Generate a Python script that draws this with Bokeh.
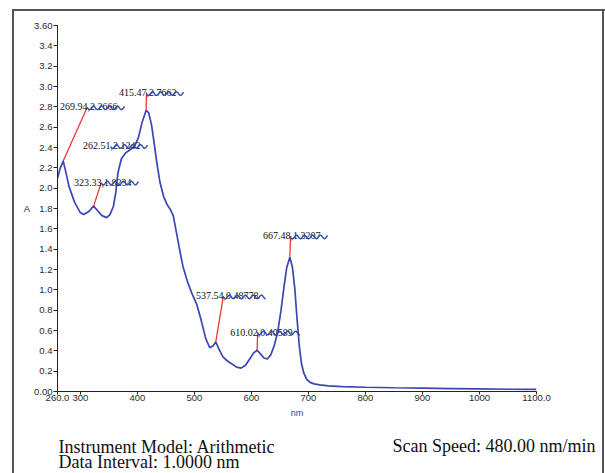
import numpy as np
from bokeh.plotting import figure
from bokeh.layouts import column
from bokeh.models import FixedTicker, Range1d
from bokeh.core.properties import value
from bokeh.embed import file_html
from bokeh.resources import INLINE

# ---- spectrum (wavelength nm, absorbance A) ----
wavelength = [260, 265, 269.94, 275, 280, 290, 300, 306, 315, 323.33, 330, 338, 346, 352,
              358, 362, 366, 372, 380, 388, 395, 402, 408, 415.47, 420, 425, 430, 435, 440,
              446, 452, 458, 463, 468, 474, 480, 488, 496, 504, 512, 520, 527, 533, 537.54,
              543, 550, 558, 566, 574, 582, 590, 597, 604, 610.02, 616, 622, 628, 634, 640,
              646, 652, 657, 662, 667.48, 672, 676, 680, 684, 688, 692, 697, 703, 710, 720,
              735, 760, 800, 850, 900, 950, 1000, 1050, 1100]
absorbance = [2.10, 2.20, 2.2666, 2.15, 2.02, 1.86, 1.76, 1.74, 1.77, 1.8234, 1.78, 1.73, 1.71, 1.74,
              1.82, 1.95, 2.15, 2.29, 2.35, 2.38, 2.41, 2.50, 2.64, 2.7662, 2.74, 2.62, 2.42, 2.22, 2.05,
              1.92, 1.84, 1.79, 1.73, 1.58, 1.40, 1.23, 1.08, 0.96, 0.86, 0.70, 0.52, 0.43, 0.45, 0.48778,
              0.42, 0.34, 0.30, 0.27, 0.24, 0.23, 0.26, 0.32, 0.38, 0.40589, 0.37, 0.33, 0.32, 0.36, 0.45,
              0.58, 0.80, 1.02, 1.22, 1.3207, 1.22, 1.02, 0.72, 0.45, 0.27, 0.18, 0.12, 0.09, 0.075, 0.065,
              0.055, 0.048, 0.042, 0.037, 0.033, 0.029, 0.026, 0.022, 0.020]

# ---- peak labels ----
label_first = ["269.94", "415.47", "262.51", "323.33", "537.54", "610.02", "667.48"]
label_second = [",2.2666", ",2.7662", ",2.1242", ",1.8234", ",0.48778", ",0.40589", ",1.3207"]
label_x = [312.6, 416.0, 353.0, 337.0, 551.0, 611.0, 668.6]
label_y = [2.80, 2.94, 2.42, 2.06, 0.94, 0.585, 1.53]

# leader lines: peak -> label
lead_peak_x = [269.94, 415.47, 323.33, 537.54, 610.02, 667.48]
lead_peak_y = [2.2666, 2.7662, 1.8234, 0.48778, 0.40589, 1.3207]
lead_lab_x = [312.6, 416.0, 337.0, 551.0, 611.0, 668.6]
lead_lab_y = [2.80, 2.94, 2.06, 0.94, 0.585, 1.53]

x_ticks = [260, 300, 400, 500, 600, 700, 800, 900, 1000, 1100]
x_tick_labels = ["260.0", "300", "400", "500", "600", "700", "800", "900", "1000", "1100.0"]
y_ticks = [0.0, 0.2, 0.4, 0.6, 0.8, 1.0, 1.2, 1.4, 1.6, 1.8, 2.0, 2.2, 2.4, 2.6, 2.8, 3.0, 3.2, 3.4, 3.6]
y_tick_labels = ["0.00", "0.2", "0.4", "0.6", "0.8", "1.0", "1.2", "1.4", "1.6", "1.8", "2.0",
                 "2.2", "2.4", "2.6", "2.8", "3.0", "3.2", "3.4", "3.60"]

footer_lines = ["Instrument Model: Arithmetic", "Data Interval: 1.0000 nm"]
footer_right = "Scan Speed: 480.00 nm/min"

W, H_MAIN, H_FOOT = 605, 421, 52
FL, FR, FT, FB = 57, 536, 25, 391  # frame box in px
X0, X1, Y0, Y1 = 260, 1100, 0.0, 3.6

p = figure(width=W, height=H_MAIN, output_backend="svg", toolbar_location=None,
           x_range=Range1d(X0, X1), y_range=Range1d(Y0, Y1),
           min_border_left=FL, min_border_right=W - FR,
           min_border_top=FT, min_border_bottom=H_MAIN - FB)
p.xgrid.visible = False
p.ygrid.visible = False
p.outline_line_color = None
p.background_fill_color = "white"
p.border_fill_color = None

tick_font = "Liberation Sans"
for ax in (p.xaxis[0], p.yaxis[0]):
    ax.axis_line_color = "#222222"
    ax.major_tick_line_color = "#222222"
    ax.minor_tick_line_color = None
    ax.major_tick_in = 0
    ax.major_label_text_font = tick_font
    ax.major_label_text_font_size = "9.5px"
    ax.major_label_text_color = "#2a2a2a"
    ax.axis_label_text_font_style = "normal"

p.xaxis[0].ticker = FixedTicker(ticks=x_ticks)
p.xaxis[0].major_label_overrides = {t: s for t, s in zip(x_ticks, x_tick_labels)}
p.xaxis[0].major_tick_out = 3
p.xaxis[0].major_label_standoff = 0
p.xaxis[0].axis_label = "nm"
p.xaxis[0].axis_label_text_color = "#2f3fa8"
p.xaxis[0].axis_label_text_font = tick_font
p.xaxis[0].axis_label_text_font_size = "9px"
p.xaxis[0].axis_label_standoff = 4

p.yaxis[0].ticker = FixedTicker(ticks=y_ticks)
p.yaxis[0].major_label_overrides = {t: s for t, s in zip(y_ticks, y_tick_labels)}
p.yaxis[0].major_tick_out = 4
p.yaxis[0].major_label_standoff = 1
p.yaxis[0].axis_label = "A"
p.yaxis[0].axis_label_orientation = "horizontal"
p.yaxis[0].axis_label_text_font = tick_font
p.yaxis[0].axis_label_text_font_size = "9.5px"
p.yaxis[0].axis_label_text_color = "#222222"
p.yaxis[0].axis_label_standoff = 1

# leader lines
p.segment(x0=lead_peak_x, y0=lead_peak_y, x1=lead_lab_x, y1=lead_lab_y,
          line_color="#ee2b2b", line_width=1.2)

# spectrum
p.line(wavelength, absorbance, line_color="#3b46b2", line_width=1.7)

# peak label texts
lab_font = value("Liberation Serif")
p.text(x=label_x, y=label_y, text=label_first, text_align="right", text_baseline="alphabetic",
       text_font=lab_font, text_font_size=value("10px"), text_color="#111111")
p.text(x=label_x, y=label_y, text=label_second, text_align="left", text_baseline="alphabetic",
       text_font=lab_font, text_font_size=value("10px"), text_color="#111111")

# wavy underline decoration below the second part of each label
px_x = (FR - FL) / (X1 - X0)
px_y = (FB - FT) / (Y1 - Y0)
wx, wy = [], []
for lx, ly, s in zip(label_x, label_y, label_second):
    L = 5.3 * len(s)
    t = np.linspace(0, L, 80)
    off = 1.0 + 1.8 * np.sin(2 * np.pi * t / 8.0)
    wx.append(list(lx + t / px_x))
    wy.append(list(ly - off / px_y))
p.multi_line(wx, wy, line_color="#3348b0", line_width=1.4)

# footer with the instrument texts (pixel coordinates)
f = figure(width=W, height=H_FOOT, output_backend="svg", toolbar_location=None,
           x_range=Range1d(0, W), y_range=Range1d(H_FOOT, 0),
           x_axis_type=None, y_axis_type=None,
           min_border_left=0, min_border_right=0, min_border_top=0, min_border_bottom=0)
try:
    f.title = None
except Exception:
    pass
f.grid.visible = False
f.outline_line_color = None
f.background_fill_color = None
f.border_fill_color = None
serif = value("Liberation Serif")
f.text(x=[58, 58], y=[25, 40], text=footer_lines, text_font=serif,
       text_font_size=value("18px"), text_color="#111111", text_baseline="alphabetic")
f.text(x=[595], y=[24], text=[footer_right], text_font=serif, text_align="right",
       text_font_size=value("18px"), text_color="#111111", text_baseline="alphabetic")

for fig in (p, f):
    try:
        fig.frame_align = False
    except Exception:
        pass

frame_css = ("inset 12px 0 0 0 #ffffff, inset 0 9px 0 0 #ffffff, inset 0 11px 0 0 #555555, "
             "inset 14px 0 0 0 #555555, inset -1px 0 0 0 #ffffff, inset -3px 0 0 0 #555555")
layout = column(p, f, spacing=0, styles={"box-shadow": frame_css, "background-color": "#ffffff"})

open("out.html", "w").write(file_html(layout, INLINE))
